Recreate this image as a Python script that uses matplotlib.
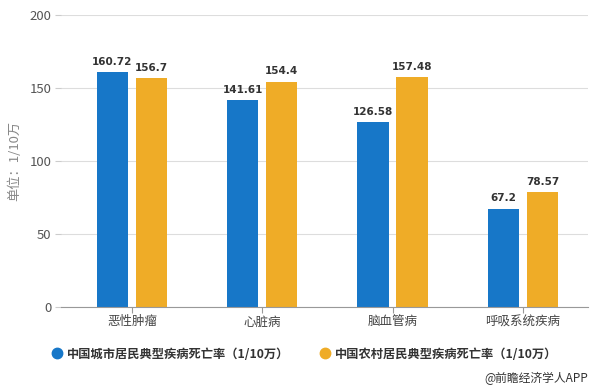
import numpy as np
import matplotlib
matplotlib.use("Agg")
from matplotlib import pyplot as plt
from matplotlib.lines import Line2D

plt.rcParams["font.family"] = ["Noto Sans CJK SC", "DejaVu Sans"]

categories = ["恶性肿瘤", "心脏病", "脑血管病", "呼吸系统疾病"]
urban = [160.72, 141.61, 126.58, 67.2]
rural = [156.7, 154.4, 157.48, 78.57]
urban_text = ["160.72", "141.61", "126.58", "67.2"]
rural_text = ["156.7", "154.4", "157.48", "78.57"]
series_names = ["中国城市居民典型疾病死亡率（1/10万）", "中国农村居民典型疾病死亡率（1/10万）"]
y_ticks = [0, 50, 100, 150, 200]

BLUE = "#1777c8"
ORANGE = "#efac27"

fig = plt.figure(figsize=(5.95, 3.9), dpi=100)
ax = fig.add_axes([61 / 595, 1 - 307 / 390, (588 - 61) / 595, (307 - 15) / 390])

x = np.arange(len(categories))
w = 0.24
off = 0.15
b1 = ax.bar(x - off, urban, w, color=BLUE, zorder=3)
b2 = ax.bar(x + off, rural, w, color=ORANGE, zorder=3)

# value labels above each bar
for bars, texts in ((b1, urban_text), (b2, rural_text)):
    for rect, t in zip(bars, texts):
        ax.annotate(t, (rect.get_x() + rect.get_width() / 2, rect.get_height()),
                    xytext=(0, 4), textcoords="offset points", ha="center", va="bottom",
                    fontsize=7.5, fontweight="bold", color="#333333",
                    family=["DejaVu Sans"])

ax.set_xlim(-0.545, 3.5)
ax.set_ylim(0, 200)
ax.set_yticks(y_ticks)
ax.set_xticks(x)
ax.set_xticklabels(categories)
ax.grid(axis="y", color="#dddddd", linewidth=0.8, zorder=0)
for s in ("top", "right", "left"):
    ax.spines[s].set_visible(False)
ax.spines["bottom"].set_color("#999999")
ax.spines["bottom"].set_zorder(4)
ax.tick_params(axis="y", length=4, color="#cccccc", labelsize=9.5, labelcolor="#555555", pad=3)
ax.tick_params(axis="x", length=4, color="#999999", labelsize=9, labelcolor="#444444", pad=2)
ax.set_ylabel("单位：1/10万", fontsize=9.5, color="#888888", labelpad=6)

handles = [Line2D([], [], marker="o", linestyle="", markersize=7.5, color=c) for c in (BLUE, ORANGE)]
fig.legend(handles, series_names, loc="center left", bbox_to_anchor=(40 / 595, 1 - 354 / 390),
           ncol=2, frameon=False, handletextpad=0.3, columnspacing=2.4, handlelength=1.0,
           prop={"size": 8.8, "weight": "bold"}, labelcolor="#333333")

fig.text(588 / 595, 1 - 378 / 390, "@前瞻经济学人APP", ha="right", va="center",
         fontsize=8.5, color="#333333")

fig.savefig("out.png", dpi=100)
